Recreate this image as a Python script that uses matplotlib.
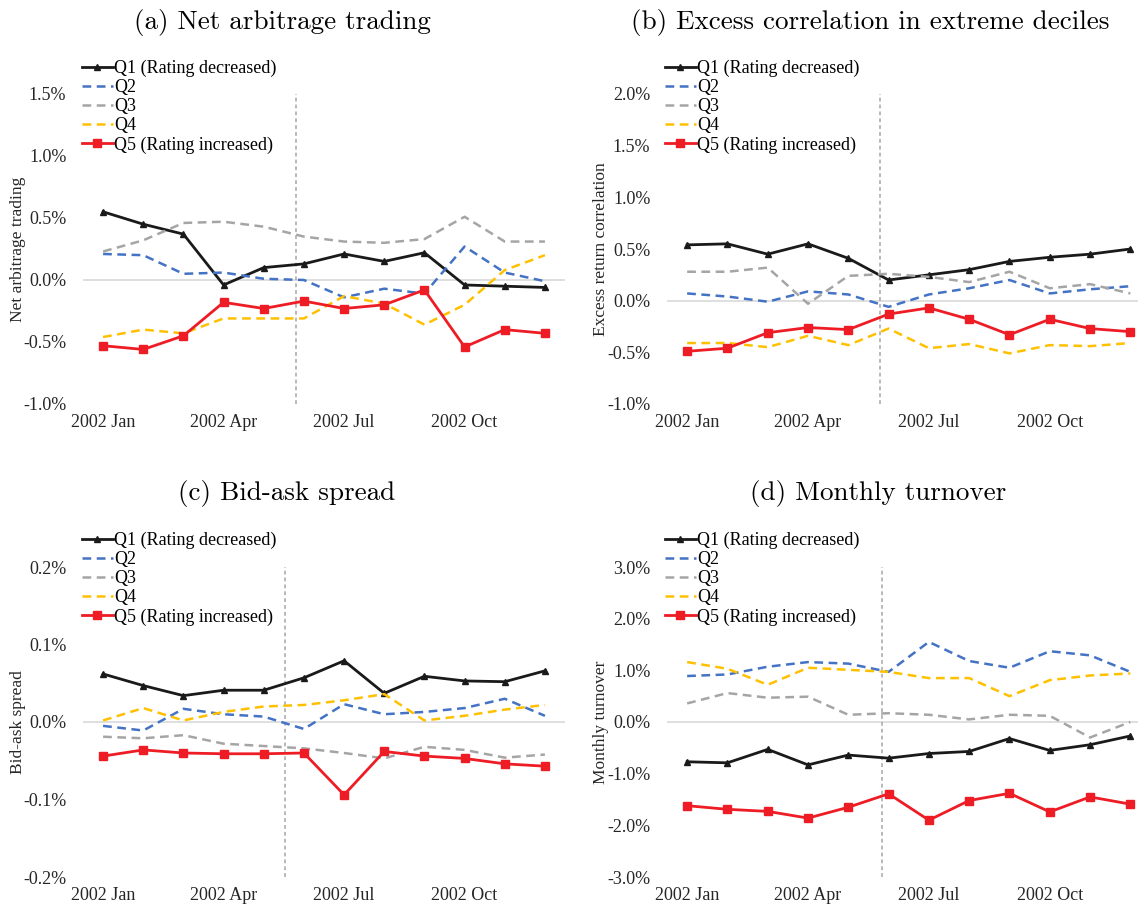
import numpy as np
import matplotlib
matplotlib.use("Agg")
import matplotlib.pyplot as plt

plt.rcParams['font.family'] = ['Liberation Serif', 'DejaVu Serif']
plt.rcParams['axes.unicode_minus'] = False

# months of 2002, labels shown every quarter
months = ['2002 Jan', '2002 Feb', '2002 Mar', '2002 Apr', '2002 May', '2002 Jun',
          '2002 Jul', '2002 Aug', '2002 Sep', '2002 Oct', '2002 Nov', '2002 Dec']
tick_idx = [0, 3, 6, 9]
series_names = ['Q1 (Rating decreased)', 'Q2', 'Q3', 'Q4', 'Q5 (Rating increased)']

# (a) net arbitrage trading, %
arb_q1 = [0.55, 0.45, 0.37, -0.04, 0.10, 0.13, 0.21, 0.15, 0.22, -0.04, -0.05, -0.06]
arb_q2 = [0.21, 0.20, 0.05, 0.06, 0.01, 0.00, -0.14, -0.07, -0.11, 0.27, 0.06, -0.01]
arb_q3 = [0.23, 0.32, 0.46, 0.47, 0.43, 0.35, 0.31, 0.30, 0.33, 0.51, 0.31, 0.31]
arb_q4 = [-0.46, -0.40, -0.43, -0.31, -0.31, -0.31, -0.13, -0.19, -0.36, -0.20, 0.08, 0.20]
arb_q5 = [-0.53, -0.56, -0.45, -0.18, -0.23, -0.17, -0.23, -0.20, -0.08, -0.54, -0.40, -0.43]

# (b) excess return correlation, %
cor_q1 = [0.54, 0.55, 0.45, 0.55, 0.41, 0.20, 0.25, 0.30, 0.38, 0.42, 0.45, 0.50]
cor_q2 = [0.07, 0.04, -0.01, 0.09, 0.06, -0.06, 0.06, 0.12, 0.20, 0.07, 0.11, 0.14]
cor_q3 = [0.28, 0.28, 0.32, -0.03, 0.24, 0.26, 0.23, 0.18, 0.28, 0.12, 0.16, 0.07]
cor_q4 = [-0.41, -0.41, -0.45, -0.34, -0.43, -0.27, -0.46, -0.42, -0.51, -0.43, -0.44, -0.41]
cor_q5 = [-0.49, -0.46, -0.31, -0.26, -0.28, -0.13, -0.07, -0.18, -0.33, -0.18, -0.27, -0.30]

# (c) bid-ask spread, %
ba_q1 = [0.062, 0.047, 0.034, 0.041, 0.041, 0.057, 0.079, 0.037, 0.059, 0.053, 0.052, 0.066]
ba_q2 = [-0.005, -0.011, 0.017, 0.010, 0.007, -0.009, 0.023, 0.010, 0.013, 0.018, 0.030, 0.008]
ba_q3 = [-0.019, -0.021, -0.017, -0.028, -0.031, -0.034, -0.040, -0.047, -0.032, -0.036, -0.046, -0.042]
ba_q4 = [0.002, 0.018, 0.002, 0.013, 0.020, 0.022, 0.028, 0.036, 0.002, 0.008, 0.016, 0.022]
ba_q5 = [-0.044, -0.036, -0.040, -0.041, -0.041, -0.040, -0.094, -0.038, -0.044, -0.047, -0.054, -0.057]

# (d) monthly turnover, %
to_q1 = [-0.77, -0.79, -0.53, -0.83, -0.64, -0.70, -0.61, -0.57, -0.32, -0.55, -0.44, -0.27]
to_q2 = [0.89, 0.92, 1.07, 1.16, 1.13, 0.97, 1.55, 1.18, 1.05, 1.37, 1.29, 0.97]
to_q3 = [0.36, 0.56, 0.47, 0.49, 0.14, 0.17, 0.14, 0.05, 0.14, 0.12, -0.30, 0.00]
to_q4 = [1.16, 1.03, 0.72, 1.05, 1.01, 0.97, 0.85, 0.85, 0.50, 0.81, 0.90, 0.94]
to_q5 = [-1.62, -1.69, -1.73, -1.86, -1.65, -1.39, -1.90, -1.52, -1.38, -1.74, -1.45, -1.59]

W, H = 1138, 909
fig = plt.figure(figsize=(W / 100, H / 100), dpi=100)


def rect(l, t, r, b):
    return [l / W, 1 - b / H, (r - l) / W, (b - t) / H]


styles = [
    dict(color='#1a1a1a', lw=2.0, marker='^', ms=5),
    dict(color='#4472C4', lw=1.8, dashes=(3.5, 2.2)),
    dict(color='#A5A5A5', lw=1.8, dashes=(3.5, 2.2)),
    dict(color='#FFC000', lw=1.8, dashes=(3.5, 2.2)),
    dict(color='#EE1C25', lw=2.0, marker='s', ms=6),
]

panels = [
    # title, ylabel, data, box, xmax, ylim, step, vline, title pos, legend pos
    ('(a) Net arbitrage trading', 'Net arbitrage trading',
     [arb_q1, arb_q2, arb_q3, arb_q4, arb_q5], (83, 94, 565, 404), 11.5,
     (-1.0, 1.5), 0.5, 4.8, (282, 22), (82, 60)),
    ('(b) Excess correlation in extreme deciles', 'Excess return correlation',
     [cor_q1, cor_q2, cor_q3, cor_q4, cor_q5], (667, 94, 1138, 404), 11.19,
     (-1.0, 2.0), 0.5, 4.79, (870, 22), (665, 60)),
    ('(c) Bid-ask spread', 'Bid-ask spread',
     [ba_q1, ba_q2, ba_q3, ba_q4, ba_q5], (83, 567, 565, 877), 11.5,
     (-0.2, 0.2), 0.1, 4.53, (287, 494), (82, 532)),
    ('(d) Monthly turnover', 'Monthly turnover',
     [to_q1, to_q2, to_q3, to_q4, to_q5], (667, 567, 1138, 877), 11.19,
     (-3.0, 3.0), 1.0, 4.84, (878, 494), (665, 532)),
]

x = np.arange(len(months))
for title, ylab, data, box, xmax, ylim, step, vx, tpos, lpos in panels:
    ax = fig.add_axes(rect(*box))
    ax.axhline(0, color='#d9d9d9', lw=1.2, zorder=0)
    ax.axvline(vx, color='#a6a6a6', lw=1.1, dashes=(2.5, 2), zorder=0)
    handles = []
    for vals, name, st in zip(data, series_names, styles):
        h, = ax.plot(x, vals, label=name, **st)
        handles.append(h)
    ax.set_xlim(-0.5, xmax)
    ax.set_ylim(*ylim)
    yt = np.arange(ylim[0], ylim[1] + step / 2, step)
    ax.set_yticks(yt)
    ax.set_yticklabels([f'{v:.1f}%' for v in yt])
    ax.set_xticks(tick_idx)
    ax.set_xticklabels([months[i] for i in tick_idx])
    ax.tick_params(length=0, labelsize=13, colors='#262626')
    ax.tick_params(axis='y', pad=12)
    ax.tick_params(axis='x', pad=7)
    for s in ax.spines.values():
        s.set_visible(False)
    ax.set_ylabel(ylab, fontsize=12.5, color='#262626')
    lab_x = 26 if box[0] < 300 else 609
    ax.yaxis.set_label_coords((lab_x - box[0]) / (box[2] - box[0]), 0.5)
    fig.text(tpos[0] / W, 1 - tpos[1] / H, title, fontsize=19.5, family='cmr10',
             ha='center', va='center')
    ax.legend(handles=handles, loc='upper left',
              bbox_to_anchor=(lpos[0] / W, 1 - lpos[1] / H),
              bbox_transform=fig.transFigure, frameon=False, fontsize=13,
              handlelength=1.7, handletextpad=0.1, labelspacing=0.11,
              borderpad=0, borderaxespad=0)

fig.savefig('out.png', dpi=100)
